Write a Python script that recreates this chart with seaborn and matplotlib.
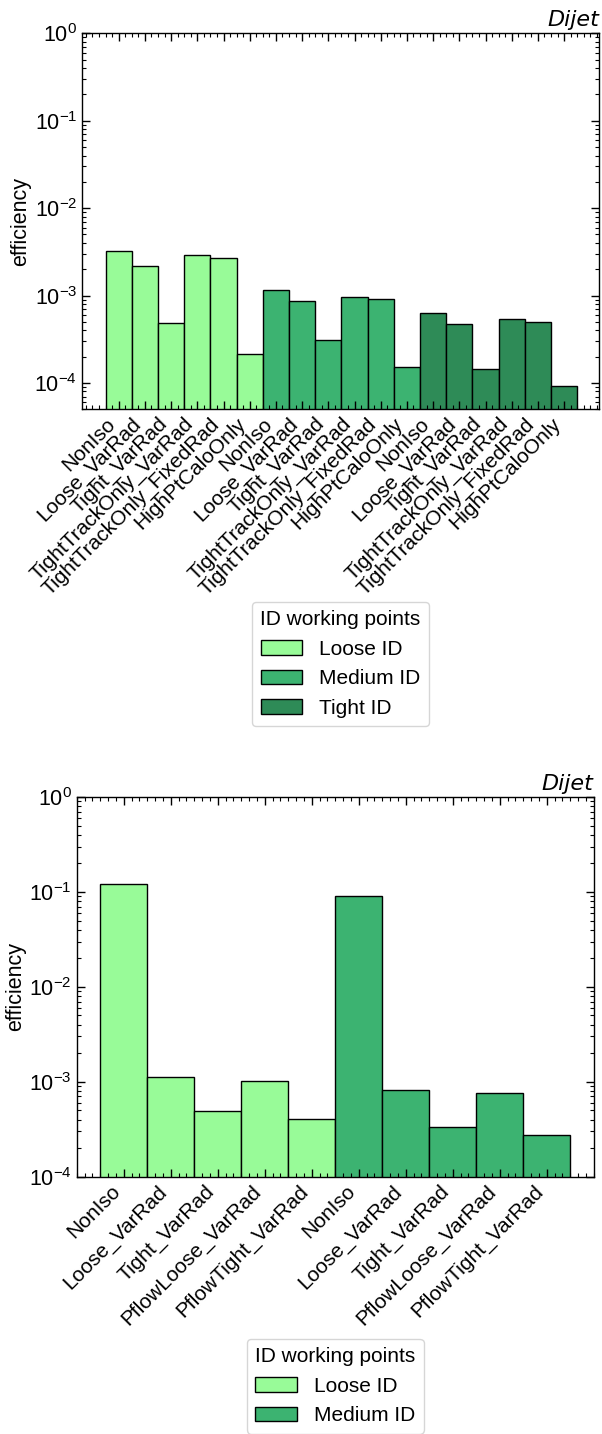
import matplotlib
matplotlib.use("Agg")
import matplotlib.pyplot as plt
from matplotlib.ticker import MultipleLocator, LogLocator
import seaborn as sns
import pandas as pd

# ---------------- data ----------------
iso_top = ["NonIso", "Loose_VarRad", "Tight_VarRad", "TightTrackOnly_VarRad",
           "TightTrackOnly_FixedRad", "HighPtCaloOnly"]
ids_top = ["Loose ID", "Medium ID", "Tight ID"]
loose_top = [3.2e-3, 2.2e-3, 4.8e-4, 2.9e-3, 2.7e-3, 2.16e-4]
medium_top = [1.15e-3, 8.6e-4, 3.08e-4, 9.7e-4, 9.1e-4, 1.51e-4]
tight_top = [6.4e-4, 4.7e-4, 1.43e-4, 5.4e-4, 5.05e-4, 9.3e-5]

iso_bot = ["NonIso", "Loose_VarRad", "Tight_VarRad", "PflowLoose_VarRad",
           "PflowTight_VarRad"]
ids_bot = ["Loose ID", "Medium ID"]
loose_bot = [0.1215, 1.11e-3, 4.9e-4, 1.03e-3, 4.1e-4]
medium_bot = [0.0908, 8.1e-4, 3.35e-4, 7.6e-4, 2.73e-4]

palette = {"Loose ID": "#98FB98", "Medium ID": "#3CB371", "Tight ID": "#2E8B57"}

sns.set_style("ticks")
plt.rcParams["font.family"] = ["Liberation Sans", "DejaVu Sans"]
plt.rcParams["mathtext.fontset"] = "custom"
plt.rcParams["mathtext.rm"] = "Liberation Sans"
plt.rcParams["mathtext.it"] = "Liberation Sans:italic"
plt.rcParams["axes.linewidth"] = 1.0
for k in ["text.color", "axes.labelcolor", "axes.edgecolor", "xtick.color",
          "ytick.color"]:
    plt.rcParams[k] = "black"
plt.rcParams["axes.axisbelow"] = False

FS = 15.5
XFS = 15.0


def build(isos, ids, series):
    rows = []
    for gid, vals in zip(ids, series):
        for iso, v in zip(isos, vals):
            rows.append({"key": f"{gid}|{iso}", "iso": iso, "ID": gid, "eff": v})
    return pd.DataFrame(rows)


def draw(ax, df, ids, ylim, xlim, minor_step, leg_y):
    sns.barplot(data=df, x="key", y="eff", hue="ID", hue_order=ids,
                order=list(df["key"]), dodge=False, width=1.0,
                palette=palette, edgecolor="black", linewidth=1.0,
                saturation=1, ax=ax)
    ax.set_axisbelow(False)
    ax.set_yscale("log")
    ax.set_ylim(*ylim)
    ax.set_xlim(*xlim)
    ax.yaxis.set_minor_locator(LogLocator(base=10, subs=range(2, 10), numticks=50))
    ax.set_xticks(range(len(df)))
    ax.set_xticklabels(list(df["iso"]), rotation=45, ha="right", fontsize=XFS)
    ax.xaxis.set_minor_locator(MultipleLocator(minor_step))
    ax.tick_params(which="both", direction="in", top=True, right=True)
    ax.tick_params(which="major", length=5.5, width=1)
    ax.tick_params(axis="y", which="major", labelsize=FS)
    ax.tick_params(which="minor", length=2.8, width=0.8)
    ax.set_xlabel("")
    ax.set_ylabel("efficiency", fontsize=FS, labelpad=2)
    ax.text(1.0, 1.008, "Dijet", transform=ax.transAxes, ha="right",
            va="bottom", fontsize=16, style="italic", family="DejaVu Sans")
    handles, labels = ax.get_legend_handles_labels()
    if ax.get_legend() is not None:
        ax.get_legend().remove()
    ax.legend(handles, labels, title="ID working points", loc="upper center",
              bbox_to_anchor=(0.5, leg_y), borderaxespad=0.0,
              fontsize=FS - 0.5, title_fontsize=FS - 0.5,
              handlelength=2.0, handletextpad=0.8)


fig = plt.figure(figsize=(6.02, 14.34), dpi=100)
W, H = 602.0, 1434.0

ax1 = fig.add_axes([82 / W, 1 - 409.3 / H, 517 / W, 376 / H])
df_top = build(iso_top, ids_top, [loose_top, medium_top, tight_top])
draw(ax1, df_top, ids_top, (5e-5, 1), (-1.4, 18.33), 0.25, -0.5125)

ax2 = fig.add_axes([76.7 / W, 1 - 1176.7 / H, 517 / W, 379.7 / H])
df_bot = build(iso_bot, ids_bot, [loose_bot, medium_bot])
draw(ax2, df_bot, ids_bot, (1e-4, 1), (-1.0, 10.0), 1 / 6, -0.4275)

fig.savefig("out.png", dpi=100)
